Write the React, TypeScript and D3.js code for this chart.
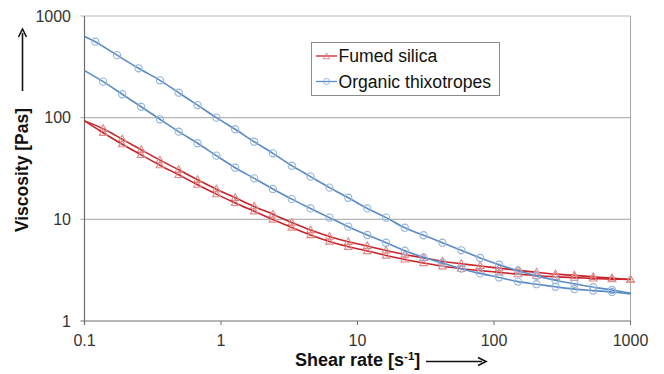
import * as d3 from "d3";

// shear rates (1/s) and viscosities (Pas)
const silicaShear = [0.1, 0.137, 0.189, 0.26, 0.357, 0.49, 0.673, 0.925, 1.27, 1.75, 2.4, 3.3, 4.53, 6.23, 8.56, 11.8, 16.2, 22.2, 30.5, 41.9, 57.6, 79.2, 109, 150, 205, 282, 388, 533, 732, 1000];
const silicaUp = [93, 77.9, 61.4, 48.3, 38.2, 30.7, 24.5, 19.8, 16.3, 13.4, 11.2, 9.31, 7.85, 6.78, 6.01, 5.47, 4.94, 4.51, 4.17, 3.87, 3.66, 3.48, 3.31, 3.15, 3.01, 2.89, 2.81, 2.72, 2.64, 2.56];
const silicaDown = [93, 71.1, 54.8, 43.1, 34.1, 27.4, 21.9, 17.7, 14.5, 12.0, 9.96, 8.31, 7.01, 6.05, 5.37, 4.88, 4.41, 4.03, 3.72, 3.45, 3.27, 3.13, 3.01, 2.89, 2.79, 2.72, 2.67, 2.62, 2.58, 2.56];

const thixoUpShear = [0.1, 0.12, 0.173, 0.249, 0.357, 0.49, 0.673, 0.925, 1.27, 1.75, 2.4, 3.3, 4.53, 6.23, 8.56, 11.8, 16.2, 22.2, 30.5, 41.9, 57.6, 79.2, 109, 150, 205, 282, 388, 533, 732, 1000];
const thixoUp = [630, 559, 412, 306, 233, 176, 133, 100, 76.9, 58.0, 44.6, 33.7, 26.3, 20.5, 16.3, 12.8, 10.4, 8.27, 6.97, 5.89, 4.96, 4.17, 3.58, 3.12, 2.78, 2.52, 2.32, 2.15, 2.02, 1.88];
const thixoDownShear = silicaShear;
const thixoDown = [290, 226, 170, 128, 96.4, 72.8, 56.0, 42.3, 32.2, 25.3, 19.9, 15.8, 12.8, 10.4, 8.47, 7.01, 5.89, 4.91, 4.23, 3.72, 3.27, 2.94, 2.68, 2.44, 2.30, 2.17, 2.06, 1.99, 1.93, 1.85];

const xTicks = [0.1, 1, 10, 100, 1000];
const yTicks = [1, 10, 100, 1000];
const xTickLabels = ["0.1", "1", "10", "100", "1000"];
const yTickLabels = ["1", "10", "100", "1000"];

const RED = "#c8242b";
const RED_MARK = "#e08a88";
const BLUE = "#5a8bc6";
const BLUE_MARK = "#93b4dc";
const FONT = "Liberation Sans, Arial, sans-serif";

type Pt = [number, number];
const zip = (xs: number[], ys: number[]): Pt[] => xs.map((v, i) => [v, ys[i]]);

export default function App() {
  const width = 664;
  const height = 374;
  const margin = { top: 16, right: 33.5, bottom: 53, left: 84.5 };

  const x = d3.scaleLog().domain([0.1, 1000]).range([margin.left, width - margin.right]);
  const y = d3.scaleLog().domain([1, 1000]).range([height - margin.bottom, margin.top]);

  const line = d3
    .line<Pt>()
    .x((d) => x(d[0]))
    .y((d) => y(d[1]))
    .curve(d3.curveCatmullRom.alpha(0.5));

  const series = [
    { pts: zip(silicaShear, silicaUp), color: RED, kind: "tri", skipEnd: false },
    { pts: zip(silicaShear, silicaDown), color: RED, kind: "tri", skipEnd: false },
    { pts: zip(thixoUpShear, thixoUp), color: BLUE, kind: "circ", skipEnd: true },
    { pts: zip(thixoDownShear, thixoDown), color: BLUE, kind: "circ", skipEnd: true },
  ];

  const tri = (cx: number, cy: number, s: number) =>
    `M${cx},${cy - s} L${cx + s * 0.95},${cy + s * 0.65} L${cx - s * 0.95},${cy + s * 0.65} Z`;

  const x0 = x(0.1);
  const x1 = x(1000);
  const yb = y(1);
  const yt = y(1000);

  return (
    <svg
      width={width}
      height={height}
      style={{ position: "absolute", left: 0, top: 0, background: "#fff" }}
      fontFamily={FONT}
    >
      {/* grid */}
      {yTicks.slice(1).map((t) => (
        <line key={t} x1={x0 - 4} x2={x1} y1={y(t)} y2={y(t)} stroke="#b5b5b5" strokeWidth={1.2} />
      ))}
      <line x1={x1} x2={x1} y1={yt} y2={yb} stroke="#a8a8a8" strokeWidth={1} />

      {/* axes */}
      <line x1={x0} x2={x0} y1={yt} y2={yb + 4} stroke="#6e6e6e" strokeWidth={1.2} />
      <line x1={x0 - 4} x2={x1} y1={yb} y2={yb} stroke="#6e6e6e" strokeWidth={1.2} />
      {xTicks.map((t) => (
        <line key={t} x1={x(t)} x2={x(t)} y1={yb} y2={yb + 4} stroke="#6e6e6e" strokeWidth={1} />
      ))}
      {yTicks.map((t, i) => (
        <text key={t} x={71} y={y(t)} dy="0.36em" textAnchor="end" fontSize={16} fill="#333">
          {yTickLabels[i]}
        </text>
      ))}
      {xTicks.map((t, i) => (
        <text key={t} x={x(t)} y={345.5} textAnchor="middle" fontSize={16} fill="#333">
          {xTickLabels[i]}
        </text>
      ))}

      {/* series */}
      {series.map((s, si) => (
        <g key={si}>
          <path d={line(s.pts) ?? ""} fill="none" stroke={s.color} strokeWidth={1.6} />
          {s.pts.slice(1, s.skipEnd ? -1 : undefined).map((p, i) =>
            s.kind === "tri" ? (
              <path key={i} d={tri(x(p[0]), y(p[1]), 4)} fill="none" stroke={RED_MARK} strokeWidth={1.1} />
            ) : (
              <circle key={i} cx={x(p[0])} cy={y(p[1])} r={3.6} fill="none" stroke={BLUE_MARK} strokeWidth={1.1} />
            )
          )}
        </g>
      ))}

      {/* legend */}
      <rect x={311.5} y={42.5} width={188} height={53} fill="#fff" stroke="#8c8c8c" strokeWidth={1} />
      <line x1={316} x2={337} y1={56} y2={56} stroke={RED} strokeWidth={1.3} />
      <path d={tri(326.5, 56.5, 3.4)} fill="none" stroke={RED_MARK} strokeWidth={1} />
      <text x={338.5} y={62} fontSize={17.6} fill="#111">Fumed silica</text>
      <line x1={316} x2={337} y1={81.5} y2={81.5} stroke={BLUE} strokeWidth={1.3} />
      <circle cx={326.5} cy={81.5} r={3} fill="none" stroke={BLUE_MARK} strokeWidth={1} />
      <text x={338.5} y={87.5} fontSize={17.6} fill="#111">Organic thixotropes</text>

      {/* y title + arrow */}
      <text
        transform="translate(28,170) rotate(-90)"
        textAnchor="middle"
        fontSize={17.5}
        fontWeight="bold"
        fill="#111"
      >
        Viscosity [Pas]
      </text>
      <line x1={22.5} x2={22.5} y1={91} y2={33} stroke="#111" strokeWidth={1.6} />
      <path d="M18.5,37 L22.5,29 L26.5,37" fill="none" stroke="#111" strokeWidth={1.6} />

      {/* x title + arrow */}
      <text x={295} y={366} fontSize={18} fontWeight="bold" fill="#111">
        Shear rate [s
        <tspan fontSize={11.5} dy={-6.5}>-1</tspan>
        <tspan dy={6.5}>]</tspan>
      </text>
      <line x1={426} x2={482} y1={361.5} y2={361.5} stroke="#111" strokeWidth={1.6} />
      <path d="M478,357.5 L486,361.5 L478,365.5" fill="none" stroke="#111" strokeWidth={1.6} />
    </svg>
  );
}
